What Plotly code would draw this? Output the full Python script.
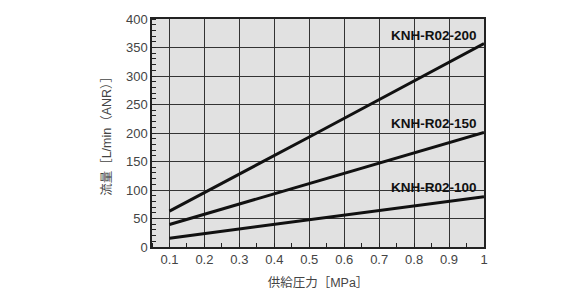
import plotly.graph_objects as go

pressure = [0.1, 0.5, 1.0]
flow_200 = [63, 193, 357]
flow_150 = [39.5, 111, 201]
flow_100 = [15.5, 48, 88]
series_names = ["KNH-R02-200", "KNH-R02-150", "KNH-R02-100"]
label_y = [371, 216, 105]
x_ticks = [0.1, 0.2, 0.3, 0.4, 0.5, 0.6, 0.7, 0.8, 0.9, 1.0]
x_ticktext = ["0.1", "0.2", "0.3", "0.4", "0.5", "0.6", "0.7", "0.8", "0.9", "1"]
y_ticks = [0, 50, 100, 150, 200, 250, 300, 350, 400]

fig = go.Figure()
for ys, name in zip([flow_200, flow_150, flow_100], series_names):
    fig.add_trace(go.Scatter(x=pressure, y=ys, mode="lines", name=name,
                             line=dict(color="#111111", width=3), showlegend=False))

for name, ly in zip(series_names, label_y):
    fig.add_annotation(x=0.985, y=ly, text=f"<b>{name}</b>", showarrow=False,
                       xanchor="right", yanchor="middle",
                       font=dict(family="Liberation Sans, Arial", size=13.5, color="#111111"))

title_font = dict(family="Liberation Sans, Noto Sans CJK JP", size=12.5, color="#444444")

fig.update_layout(
    width=583, height=300,
    margin=dict(l=152, r=99, t=16, b=51),
    paper_bgcolor="white",
    plot_bgcolor="#e1e1e1",
    font=dict(family="Liberation Sans, Arial", size=13, color="#444444"),
)
fig.update_xaxes(
    range=[0.05, 1.0], tickvals=x_ticks, ticktext=x_ticktext,
    showgrid=True, gridcolor="#333333", gridwidth=1,
    zeroline=False, showline=True, linecolor="#222222", linewidth=1.5, mirror=True,
    ticks="", tickfont=dict(size=13, color="#444444"),
    minor=dict(ticks="inside", ticklen=4, tickcolor="#222222", dtick=0.05, tick0=0.05, showgrid=False),
    title=dict(text="供給圧力［MPa］", font=title_font, standoff=12),
)
fig.update_yaxes(
    range=[0, 400], tickvals=y_ticks,
    showgrid=True, gridcolor="#333333", gridwidth=1,
    zeroline=False, showline=True, linecolor="#222222", linewidth=1.5, mirror=True,
    ticks="", tickfont=dict(size=13, color="#444444"),
    minor=dict(ticks="inside", ticklen=4, tickcolor="#222222", dtick=10, showgrid=False),
    title=dict(text="流量［L/min（ANR）］", font=title_font, standoff=12),
)

fig.write_html("out.html")
